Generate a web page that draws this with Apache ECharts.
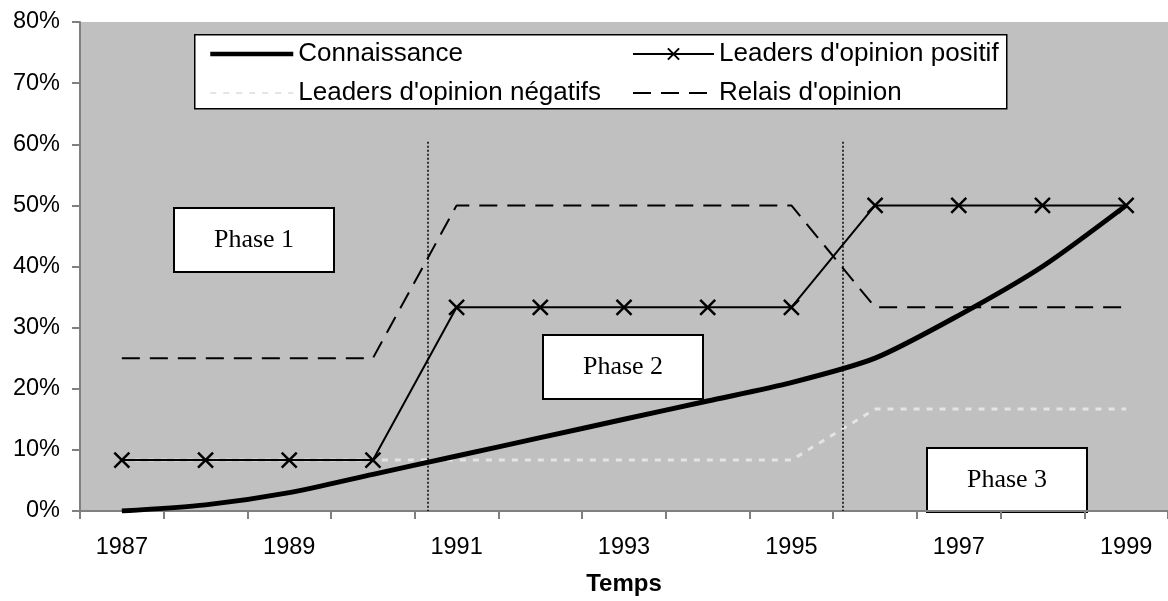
<!DOCTYPE html>
<html>
<head>
<meta charset="utf-8">
<script src="https://cdn.jsdelivr.net/npm/echarts@6/dist/echarts.min.js"></script>
<style>
  html, body { margin: 0; padding: 0; background: #fff; }
  #main { width: 1168px; height: 601px; }
</style>
</head>
<body>
<div id="main"></div>
<script>
const years = ['1987', '1988', '1989', '1990', '1991', '1992', '1993', '1994', '1995', '1996', '1997', '1998', '1999']
const connaissance = [0, 1, 3, 6, 9, 12, 15, 18, 21, 25, 32, 40, 50]
const leadersPositif = [8.33, 8.33, 8.33, 8.33, 33.33, 33.33, 33.33, 33.33, 33.33, 50, 50, 50, 50]
const leadersNegatifs = [8.33, 8.33, 8.33, 8.33, 8.33, 8.33, 8.33, 8.33, 8.33, 16.67, 16.67, 16.67, 16.67]
const relais = [25, 25, 25, 25, 50, 50, 50, 50, 50, 33.33, 33.33, 33.33, 33.33]
// séparations des phases, en années depuis le bord gauche (0 = début 1987)
const phaseBreaks = [4.16, 9.11]
const phaseLabels = ['Phase 1', 'Phase 2', 'Phase 3']

const crossPath = 'path://M0,0L10,10M10,0L0,10'
const legendFont = {fontFamily: 'Liberation Sans, Arial', fontSize: 26, color: '#000', lineHeight: 26}
const axisFont = {fontFamily: 'Liberation Sans, Arial', fontSize: 23.5, color: '#000'}
const noSymbol = {opacity: 0}

function phaseBox(x, y, text) {
  return {
    type: 'group', left: x, top: y,
    children: [
      {type: 'rect', shape: {x: 0, y: 0, width: 160, height: 64}, style: {fill: '#fff', stroke: '#000', lineWidth: 2}},
      {type: 'text', x: 80, y: 32, style: {text: text, fill: '#000', font: '26px "Liberation Serif", "Times New Roman"', align: 'center', verticalAlign: 'middle'}}
    ]
  }
}

let myChart = echarts.init(document.getElementById('main'), null, {renderer: 'canvas'})

let option = {
  animation: false,
  backgroundColor: '#fff',
  grid: {
    left: 80, top: 22, width: 1093, height: 505,
    show: true, backgroundColor: '#c0c0c0', borderWidth: 0
  },
  legend: [
    {
      data: [
        {name: 'Connaissance', itemStyle: noSymbol, lineStyle: {width: 4.5}},
        {name: "Leaders d'opinion négatifs", itemStyle: noSymbol}
      ],
      orient: 'vertical', left: 208, top: 41, padding: 0,
      itemWidth: 83, itemHeight: 14, itemGap: 13,
      textStyle: legendFont
    },
    {
      data: [
        {name: "Leaders d'opinion positif"},
        {name: "Relais d'opinion", itemStyle: noSymbol}
      ],
      orient: 'vertical', left: 632, top: 41, padding: 0,
      itemWidth: 81, itemHeight: 14, itemGap: 13,
      textStyle: legendFont
    }
  ],
  xAxis: [
    {
      type: 'category',
      data: years,
      name: 'Temps',
      nameLocation: 'middle',
      nameGap: 61,
      nameTextStyle: {fontFamily: 'Liberation Sans, Arial', fontSize: 24, fontWeight: 'bold', color: '#000'},
      axisLine: {lineStyle: {color: '#808080', width: 2}},
      axisTick: {show: true, interval: 0, length: 8, lineStyle: {color: '#808080', width: 2}},
      axisLabel: Object.assign({interval: 1, margin: 25}, axisFont)
    },
    {
      type: 'value', min: 0, max: 13, show: false
    }
  ],
  yAxis: {
    type: 'value',
    min: 0, max: 80, interval: 10,
    axisLine: {show: true, lineStyle: {color: '#808080', width: 2}},
    axisTick: {show: true, length: 8, lineStyle: {color: '#808080', width: 2}},
    axisLabel: Object.assign({formatter: '{value}%', margin: 20}, axisFont),
    splitLine: {show: false}
  },
  graphic: [
    {type: 'rect', left: 194, top: 34, shape: {width: 812, height: 74}, style: {fill: '#fff', stroke: '#000', lineWidth: 1.5}, z: 0},
    phaseBox(173, 207, phaseLabels[0]),
    phaseBox(542, 334, phaseLabels[1]),
    phaseBox(926, 447, phaseLabels[2])
  ],
  series: [
    {
      name: "Leaders d'opinion négatifs",
      type: 'line',
      data: leadersNegatifs,
      symbol: 'none',
      color: '#e4e4e4',
      lineStyle: {color: '#e4e4e4', width: 3, type: [6, 7]}
    },
    {
      name: "Relais d'opinion",
      type: 'line',
      data: relais,
      symbol: 'none',
      color: '#000',
      lineStyle: {color: '#000', width: 2, type: [18, 10]}
    },
    {
      name: "Leaders d'opinion positif",
      type: 'line',
      data: leadersPositif,
      symbol: crossPath,
      symbolSize: 15,
      color: '#000',
      itemStyle: {color: 'none', borderColor: '#000', borderWidth: 2.5},
      lineStyle: {color: '#000', width: 2}
    },
    {
      name: 'Connaissance',
      type: 'line',
      data: connaissance,
      symbol: 'none',
      smooth: 0.25,
      color: '#000',
      lineStyle: {color: '#000', width: 5}
    },
    {
      type: 'line',
      xAxisIndex: 1,
      data: [],
      silent: true,
      markLine: {
        symbol: 'none',
        silent: true,
        label: {show: false},
        lineStyle: {color: '#000', width: 1.5, type: [2, 2]},
        data: phaseBreaks.map(v => [{coord: [v, 60.4]}, {coord: [v, 0]}])
      }
    }
  ]
}
myChart.setOption(option)
</script>
</body>
</html>
